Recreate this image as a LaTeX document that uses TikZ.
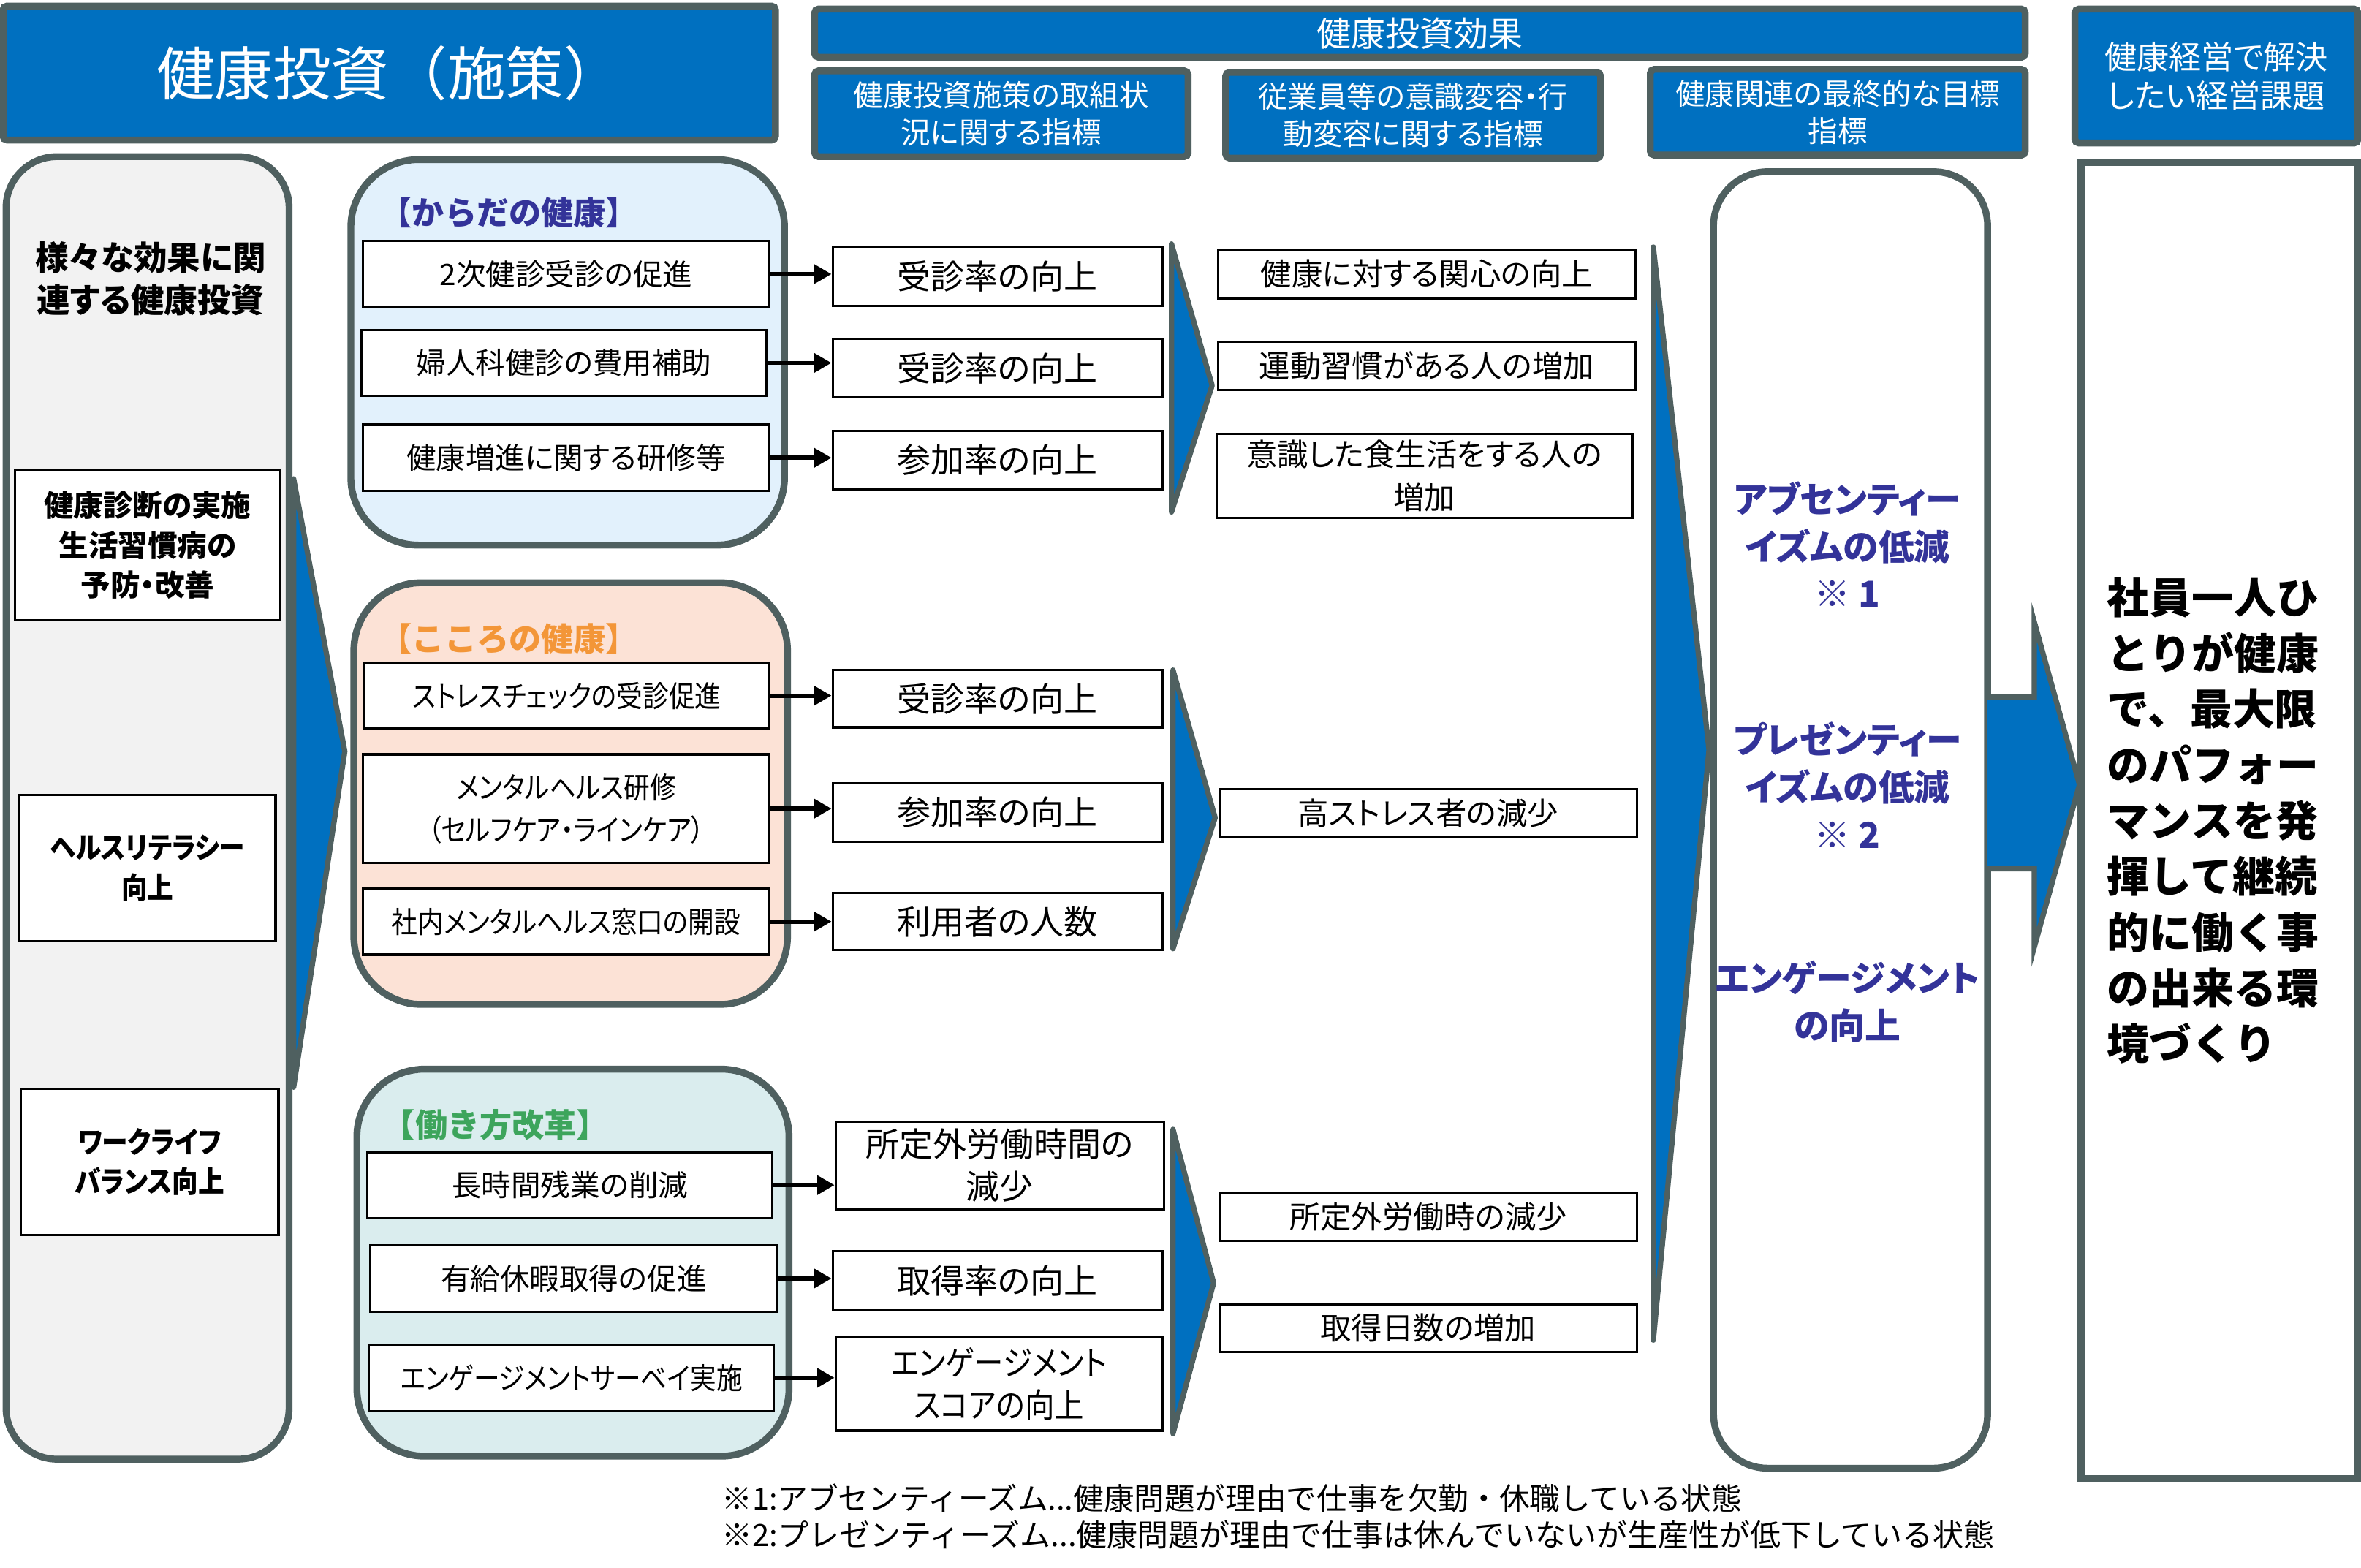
\documentclass[tikz,border=0pt]{standalone}
\usepackage{fontspec}
\setmainfont[RawFeature={+palt}]{Noto Sans CJK JP}
\newfontfamily\fullw{Noto Sans CJK JP}
\newfontfamily\narrowjp[FakeStretch=0.88,RawFeature={+palt}]{Noto Sans CJK JP}
\usetikzlibrary{arrows.meta}
\definecolor{hblue}{HTML}{0070C0}
\definecolor{bgray}{HTML}{4F6060}
\definecolor{lgray}{HTML}{F2F2F2}
\definecolor{lblue}{HTML}{E2F1FC}
\definecolor{peach}{HTML}{FCE2D6}
\definecolor{lteal}{HTML}{DAEDEE}
\definecolor{indigo}{HTML}{333399}
\definecolor{orng}{HTML}{F39638}
\definecolor{grn}{HTML}{3DA55C}
\newcommand\fsz[2]{\fontsize{#1}{#2}\selectfont}
% name, x1, y1, x2, y2, style, text
\newcommand\mybox[7]{%
  \pgfmathsetmacro\myboxw{(#4-#2)*0.02}%
  \pgfmathsetmacro\myboxh{(#5-#3)*0.02}%
  \node[#6, minimum width=\myboxw cm, minimum height=\myboxh cm] (#1) at ({(#2+#4)/2},{(#3+#5)/2}) {#7};}
\begin{document}
\begin{tikzpicture}[x=0.02cm,y=-0.02cm,
  hdr/.style={draw=bgray, line width=2.6pt, fill=hblue, text=white, inner sep=0pt, align=center, rounded corners=1.5pt},
  grp/.style={draw=bgray, line width=2.6pt, inner sep=0pt, rounded corners=0.9cm},
  itm/.style={draw=black, line width=0.9pt, fill=white, inner sep=0pt, align=center, font=\fsz{11.2}{15.9}},
  itmn/.style={itm, font=\narrowjp\fsz{11.2}{15.9}},
  res/.style={itm, font=\fsz{12.7}{16}},
  resn/.style={itm, font=\narrowjp\fsz{12.7}{16}},
  eff/.style={itm, font=\fsz{11.7}{16.5}},
  lbx/.style={itm, font=\bfseries\fsz{11.2}{15}},
  lbxn/.style={itm, font=\narrowjp\bfseries\fsz{11.2}{15}},
  arr/.style={line width=1.6pt, -{Triangle[length=6.5pt,width=7pt]}},
  wedge/.style={fill=hblue, draw=bgray, line width=2pt, line join=round},
  gtitle/.style={anchor=west, inner sep=0pt, font=\fullw\bfseries\fsz{12.2}{14}},
  goal/.style={text=indigo, align=center, font=\bfseries\fsz{13.5}{17.9}, inner sep=0pt}]
\useasboundingbox (0,0) rectangle (1568,1041);

% headers
\mybox{title}{2}{4}{515}{93}{hdr, font=\fullw\fsz{22}{26}}{健康投資（施策）}
\mybox{effect}{541}{6}{1345}{38}{hdr, font=\fsz{13}{15}}{健康投資効果}
\mybox{h1}{541}{47}{789}{104}{hdr, font=\fsz{11.2}{14.2}}{健康投資施策の取組状\\況に関する指標}
\mybox{h2}{814}{48}{1063}{105}{hdr, font=\fsz{11.2}{14.2}}{従業員等の意識変容・行\\動変容に関する指標}
\mybox{h3}{1096}{46}{1345}{103}{hdr, font=\fsz{11.2}{14.2}}{健康関連の最終的な目標\\指標}
\mybox{h4}{1378}{6}{1566}{95}{hdr, font=\fsz{12.2}{14.8}}{健康経営で解決\\したい経営課題}

% left column
\mybox{lcol}{4}{104}{192}{969}{grp, fill=lgray, rounded corners=0.68cm}{}
\node[font=\bfseries\fsz{12.6}{15.9}, align=center, inner sep=0pt] (ltitle) at (100,185) {様々な効果に関\\連する健康投資};
\mybox{l1}{10}{312}{186}{412}{lbx}{健康診断の実施\\生活習慣病の\\予防・改善}
\mybox{l2}{13}{528}{183}{625}{lbxn}{ヘルスリテラシー\\向上}
\mybox{l3}{14}{723}{185}{820}{lbxn}{ワークライフ\\バランス向上}
\filldraw[wedge] (195,318) -- (229,499) -- (195,722) -- cycle;

% group 1
\mybox{g1}{233}{106}{521}{362}{grp, fill=lblue}{}
\node[gtitle, text=indigo] (g1t) at (252,141) {【からだの健康】};
\mybox{a1}{241}{160}{511}{204}{itm}{2次健診受診の促進}
\mybox{a2}{240}{219}{509}{263}{itm}{婦人科健診の費用補助}
\mybox{a3}{241}{282}{511}{326}{itm}{健康増進に関する研修等}
\mybox{b1}{553}{164}{772}{203}{res}{受診率の向上}
\mybox{b2}{553}{225}{772}{264}{res}{受診率の向上}
\mybox{b3}{553}{286}{772}{325}{res}{参加率の向上}
\filldraw[wedge] (778,162) -- (805,256) -- (778,340) -- cycle;
\mybox{c1}{809}{166}{1086}{198}{eff}{健康に対する関心の向上}
\mybox{c2}{809}{227}{1086}{259}{eff}{運動習慣がある人の増加}
\mybox{c3}{808}{288}{1084}{344}{eff}{意識した食生活をする人の\\増加}

% group 2
\mybox{g2}{235}{387}{523}{667}{grp, fill=peach}{}
\node[gtitle, text=orng] (g2t) at (252,424) {【こころの健康】};
\mybox{a4}{242}{440}{511}{484}{itmn}{ストレスチェックの受診促進}
\mybox{a5}{241}{501}{511}{573}{itmn}{メンタルヘルス研修\\（セルフケア・ラインケア）}
\mybox{a6}{241}{590}{511}{634}{itmn}{社内メンタルヘルス窓口の開設}
\mybox{b4}{553}{445}{772}{483}{res}{受診率の向上}
\mybox{b5}{553}{520}{772}{559}{res}{参加率の向上}
\mybox{b6}{553}{593}{772}{631}{res}{利用者の人数}
\filldraw[wedge] (779,445) -- (807,543) -- (779,630) -- cycle;
\mybox{c4}{810}{524}{1087}{556}{eff}{高ストレス者の減少}

% group 3
\mybox{g3}{237}{710}{524}{967}{grp, fill=lteal}{}
\node[gtitle, text=grn] (g3t) at (254,747) {【働き方改革】};
\mybox{a7}{244}{765}{513}{809}{itm}{長時間残業の削減}
\mybox{a8}{246}{827}{516}{871}{itm}{有給休暇取得の促進}
\mybox{a9}{245}{893}{514}{937}{itmn}{エンゲージメントサーベイ実施}
\mybox{b7}{555}{745}{773}{803}{res}{所定外労働時間の\\減少}
\mybox{b8}{553}{831}{772}{870}{res}{取得率の向上}
\mybox{b9}{555}{888}{772}{950}{resn}{エンゲージメント\\スコアの向上}
\filldraw[wedge] (779,750) -- (806,852) -- (779,952) -- cycle;
\mybox{c5}{810}{792}{1087}{824}{eff}{所定外労働時の減少}
\mybox{c6}{810}{866}{1087}{898}{eff}{取得日数の増加}

% arrows
\foreach \i in {1,...,9} {
  \draw[arr] (a\i.east) -- (a\i.east -| b\i.west);
}

% big wedge to goals
\filldraw[wedge] (1098,164) -- (1135,498) -- (1098,890) -- cycle;

% goals column
\mybox{col4}{1138}{114}{1320}{975}{grp, fill=white, rounded corners=0.72cm}{}
\node[goal] (p1) at (1227,361.5) {アブセンティー\\イズムの低減\\※ 1};
\node[goal] (p2) at (1227,521.5) {プレゼンティー\\イズムの低減\\※ 2};
\node[goal] (p3) at (1227,665) {エンゲージメント\\の向上};

% block arrow
\filldraw[wedge, line join=miter] (1320,463) -- (1351,463) -- (1351,413) -- (1381,521) -- (1351,629) -- (1351,577) -- (1320,577);

% management issue column
\mybox{col5}{1382}{108}{1566}{982}{draw=bgray, line width=2.6pt, fill=white, inner sep=0pt}{}
\node[anchor=west, align=left, inner sep=0pt, font=\fullw\bfseries\fsz{16}{21.1}] (msg) at (1399,545) {社員一人ひ\\とりが健康\\で、最大限\\のパフォー\\マンスを発\\揮して継続\\的に働く事\\の出来る環\\境づくり};

% footnotes
\node[anchor=west, inner sep=0pt, font=\fullw\fsz{11.5}{14}] (n1) at (479,995) {※1:アブセンティーズム...健康問題が理由で仕事を欠勤・休職している状態};
\node[anchor=west, inner sep=0pt, font=\fullw\fsz{11.6}{14}] (n2) at (479,1019) {※2:プレゼンティーズム...健康問題が理由で仕事は休んでいないが生産性が低下している状態};
\end{tikzpicture}
\end{document}
